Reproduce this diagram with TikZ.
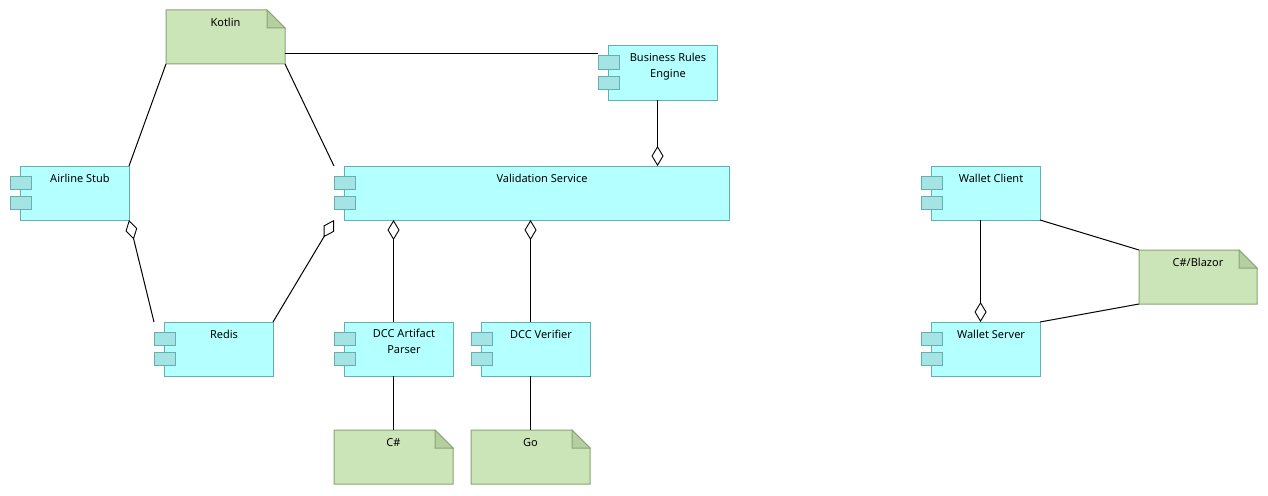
\documentclass[tikz,border=0pt]{standalone}
\usepackage{fontspec}
\setmainfont{Noto Sans}
\usetikzlibrary{arrows.meta}
\definecolor{compfill}{RGB}{180,255,255}
\definecolor{compline}{RGB}{100,175,175}
\definecolor{tabfill}{RGB}{164,228,228}
\definecolor{notefill}{RGB}{203,229,184}
\definecolor{noteline}{RGB}{135,165,115}
\definecolor{foldfill}{RGB}{181,207,162}
\tikzset{
  body/.style={draw=compline, fill=compfill, line width=1pt},
  tabbox/.style={draw=compline, fill=tabfill, line width=1pt},
  notebody/.style={draw=noteline, fill=notefill, line width=1pt},
  notefold/.style={draw=noteline, fill=foldfill, line width=1pt},
  shapebox/.style={inner sep=0pt, outer sep=0pt, draw=none},
  lbl/.style={font=\fontsize{11}{16}\selectfont, inner sep=0pt, align=center, anchor=north,
    execute at begin node={\rule{0pt}{9pt}}},
  conn/.style={line width=1pt, black},
  dia/.tip={Diamond[open, length=20pt, width=12pt, line width=0.9pt]},
}
\newcommand\compbox[6]{% name, left(tab), top, right, bottom, text
  \draw[body] (#2+10,#3) rectangle (#4,#5);
  \draw[tabbox] (#2,#3+10) rectangle (#2+21,#3+23);
  \draw[tabbox] (#2,#3+30) rectangle (#2+21,#3+43);
  \node[shapebox, minimum width={#4-#2}, minimum height={#5-#3}] (#1) at ({(#2+#4)/2},{(#3+#5)/2}) {};
  \node[lbl] (#1-label) at ({(#2+21+#4)/2},#3+7) {#6};
}
\newcommand\notebox[6]{% name, left, top, right, bottom, text
  \draw[notebody] (#2,#3) -- (#4-18,#3) -- (#4,#3+18) -- (#4,#5) -- (#2,#5) -- cycle;
  \draw[notefold] (#4-18,#3) -- (#4-18,#3+18) -- (#4,#3+18) -- cycle;
  \node[shapebox, minimum width={#4-#2}, minimum height={#5-#3}] (#1) at ({(#2+#4)/2},{(#3+#5)/2}) {};
  \node[lbl] (#1-label) at ({(#2+#4)/2},#3+7) {#6};
}
\begin{document}
\begin{tikzpicture}[x=1pt, y=-1pt]
\useasboundingbox[fill=white] (0,0) rectangle (1268,495);
\compbox{air}{10}{166}{129}{220}{Airline Stub}
\compbox{bre}{598}{46}{717}{100}{Business Rules\\Engine}
\compbox{val}{334}{166}{729}{220}{Validation Service}
\compbox{redis}{154}{322}{273}{376}{Redis}
\compbox{parser}{334}{322}{453}{376}{DCC Artifact\\Parser}
\compbox{verifier}{471}{322}{590}{376}{DCC Verifier}
\compbox{wc}{921}{166}{1040}{220}{Wallet Client}
\compbox{ws}{921}{322}{1040}{376}{Wallet Server}
\notebox{kotlin}{166}{10}{285}{64}{Kotlin}
\notebox{cs}{334}{430}{453}{484}{C\#}
\notebox{go}{471}{430}{590}{484}{Go}
\notebox{blazor}{1139}{250}{1257}{304}{C\#/Blazor}
\draw[conn] (kotlin.south west) -- (air.north east);
\draw[conn] (kotlin.south east) -- (val.north west);
\coordinate (breIn) at ([yshift=-8pt]bre.north west);
\draw[conn] (kotlin.east |- breIn) -- (breIn);
\draw[conn, -dia] (bre.south) -- (bre.south |- val.north);
\draw[conn, dia-] (air.south east) -- (redis.north west);
\draw[conn, -dia] (redis.north east) -- (val.south west);
\draw[conn, -dia] (parser.north) -- (parser.north |- val.south);
\draw[conn, -dia] (verifier.north) -- (verifier.north |- val.south);
\draw[conn] (parser.south) -- (cs.north);
\draw[conn] (verifier.south) -- (go.north);
\draw[conn, -dia] (wc.south) -- (ws.north);
\draw[conn] (wc.south east) -- (blazor.north west);
\draw[conn] (ws.north east) -- (blazor.south west);
\end{tikzpicture}
\end{document}
